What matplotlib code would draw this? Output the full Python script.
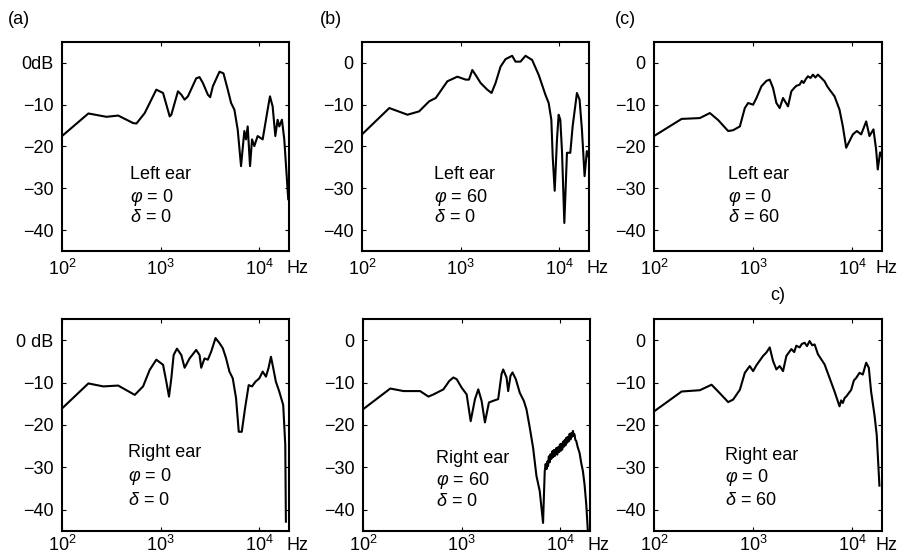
import numpy as np
import matplotlib
matplotlib.use("Agg")
from matplotlib import pyplot as plt

plt.rcParams['font.family'] = ['Liberation Sans', 'DejaVu Sans']
plt.rcParams['mathtext.fontset'] = 'custom'
plt.rcParams['mathtext.rm'] = 'Liberation Sans'
plt.rcParams['mathtext.it'] = 'Liberation Sans:italic'
plt.rcParams['mathtext.bf'] = 'Liberation Sans:bold'

# (a) left ear, phi=0, delta=0
f_a = [100, 185, 282, 371, 526, 568, 689, 903, 1057, 1234, 1282, 1497, 1619, 1748, 1889,
       2291, 2477, 2677, 3006, 3175, 3379, 3946, 4329, 4786, 5174, 5589, 6039, 6525, 7047,
       7328, 7621, 8050, 8433, 8896, 9616, 10810, 12140, 12820, 13640, 14520, 15320, 15920,
       16950, 17900, 19630]
db_a = [-17.5, -12.1, -12.9, -12.6, -14.4, -14.5, -12.0, -6.4, -7.2, -12.8, -12.4, -6.8, -7.6,
        -8.8, -8.0, -3.7, -3.4, -4.8, -7.6, -8.2, -5.6, -2.1, -2.5, -6.4, -9.6, -11.2, -16.0,
        -24.7, -16.3, -18.3, -15.2, -24.7, -18.3, -19.9, -17.5, -18.3, -11.2, -8.0, -10.4,
        -17.5, -13.6, -15.2, -13.6, -18.3, -32.6]

# (b) left ear, phi=60, delta=0
f_b = [100, 189, 289, 379, 479, 559, 733, 925, 1124, 1214, 1312, 1418, 1592, 1859, 2055, 2258,
       2536, 2850, 3327, 3597, 4040, 4539, 5300, 6186, 7222, 7798, 8298, 8567, 8975, 9467,
       9843, 10230, 10640, 11240, 11950, 12920, 13640, 15080, 16040, 16950, 18030, 19010, 19620]
db_b = [-17.1, -10.8, -12.4, -11.6, -9.2, -8.4, -4.4, -3.3, -4.0, -4.0, -1.7, -2.9, -4.8, -6.4,
        -7.2, -4.8, -0.9, 0.9, 1.7, 0.3, 0.3, 1.7, 0.7, -2.9, -7.6, -9.6, -13.6, -22.4, -30.6,
        -18.3, -12.4, -13.6, -21.1, -38.3, -21.5, -21.5, -15.2, -7.2, -8.8, -16.0, -27.1,
        -21.1, -22.3]

# (c) left ear, phi=0, delta=60
f_c = [100, 190, 290, 366, 445, 560, 629, 735, 825, 891, 1000, 1081, 1213, 1362, 1472, 1589,
       1718, 1855, 2005, 2250, 2432, 2600, 2729, 2950, 3100, 3236, 3400, 3578, 3800, 4018,
       4250, 4510, 4876, 5265, 5600, 5912, 6638, 7451, 8050, 8701, 9401, 10160, 11150, 12330,
       13840, 14940, 16390, 17440, 18120, 19130, 20040]
db_c = [-17.5, -13.4, -13.2, -12.0, -13.7, -16.3, -16.1, -15.2, -10.8, -9.6, -10.0, -8.4, -5.6,
        -4.3, -4.0, -6.0, -9.6, -10.8, -8.4, -10.4, -6.8, -6.0, -5.5, -5.2, -4.3, -4.8, -3.9,
        -3.2, -3.6, -2.8, -3.5, -2.8, -3.6, -4.4, -5.6, -6.4, -8.0, -11.2, -15.2, -20.3, -18.7,
        -17.1, -16.3, -17.1, -14.0, -17.5, -15.9, -20.7, -25.5, -21.4, -22.6]

# bottom left: right ear, phi=0, delta=0
f_d = [100, 185, 262, 371, 546, 663, 774, 903, 1057, 1141, 1214, 1282, 1353, 1462, 1619, 1748,
       1963, 2291, 2477, 2575, 2782, 3006, 3250, 3597, 3946, 4265, 4606, 4976, 5379, 5808,
       6186, 6638, 7161, 7798, 8433, 9120, 10000, 10810, 11670, 12410, 13120, 13840, 14720,
       15920, 17460, 18320, 18590]
db_d = [-16.1, -10.2, -10.9, -10.7, -12.9, -10.9, -7.0, -4.6, -5.8, -9.8, -13.3, -9.0, -3.5,
        -2.0, -3.5, -6.5, -4.3, -2.3, -3.5, -6.5, -4.3, -4.6, -2.7, 0.5, -0.7, -1.9, -4.3, -7.4,
        -9.0, -13.7, -21.6, -21.6, -16.1, -10.6, -10.9, -9.8, -9.0, -7.4, -8.6, -6.5, -3.9,
        -6.6, -9.8, -12.1, -15.3, -24.7, -42.8]

# bottom middle: right ear, phi=60, delta=0
f_e = [100, 189, 257, 379, 460, 517, 653, 750, 824, 890, 1000, 1124, 1234, 1364, 1474, 1592,
       1721, 1889, 2089, 2345, 2536, 2636, 2850, 2961, 3127, 3275, 3540, 3882, 4265, 4539,
       4900, 5300, 5727, 6186, 6683, 6950, 7100, 7250, 7400, 7503, 7650, 7800, 7950, 8110,
       8300, 8450, 8600, 8800, 8950, 9120, 9300, 9500, 9700, 9900, 10100, 10230, 10450, 10700,
       10900, 11100, 11300, 11500, 11700, 11900, 12150, 12420, 12700, 12900, 13150, 13430,
       13700, 13900, 14200, 14520, 15000, 15680, 16300, 16950, 17600, 18320, 19010]
db_e = [-16.3, -11.4, -12.0, -12.0, -13.3, -12.8, -11.6, -9.6, -8.8, -9.2, -11.2, -12.8, -19.1,
        -13.9, -11.6, -14.3, -19.4, -14.7, -14.3, -13.9, -8.0, -6.9, -8.8, -12.0, -8.4, -7.6,
        -9.2, -12.4, -14.3, -16.3, -20.6, -25.4, -32.0, -35.6, -43.1, -30.9, -29.2, -30.4,
        -28.6, -29.7, -27.4, -28.8, -26.9, -28.0, -26.2, -27.6, -25.9, -27.3, -26.0, -25.4,
        -27.0, -25.2, -26.4, -24.6, -26.1, -24.4, -25.8, -23.9, -25.1, -23.5, -24.8, -23.0,
        -24.2, -22.8, -23.9, -22.1, -23.4, -21.9, -22.8, -21.4, -22.6, -22.2, -23.5, -23.8,
        -25.2, -26.6, -29.0, -30.9, -34.0, -38.7, -45.0]

# bottom right: right ear, phi=0, delta=60
f_f = [100, 190, 290, 381, 461, 560, 629, 735, 825, 925, 1000, 1081, 1262, 1362, 1472, 1589,
       1718, 1855, 2005, 2168, 2432, 2600, 2729, 2950, 3100, 3311, 3500, 3715, 3950, 4177,
       4510, 5265, 5912, 6638, 7451, 7750, 8050, 8400, 8701, 9777, 10400, 10970, 11850, 12800,
       13840, 14720, 15520, 16780, 17700, 18830]
db_f = [-16.8, -12.1, -11.8, -10.5, -12.5, -14.6, -14.0, -11.7, -7.7, -6.1, -7.3, -5.9, -3.7,
        -2.9, -1.7, -4.9, -6.9, -6.1, -7.3, -3.7, -2.1, -2.8, -1.3, -1.7, -0.9, -0.6, -1.4,
        -0.2, -1.2, -1.0, -3.3, -5.7, -8.9, -12.1, -15.6, -14.2, -14.8, -13.6, -13.3, -11.7,
        -9.5, -8.9, -7.7, -8.1, -5.3, -6.5, -12.1, -17.6, -22.4, -34.3]

yticks = [0, -10, -20, -30, -40]
xticks = [1e2, 1e3, 1e4]
xticklabels = [r'$10^2$', r'$10^3$', r'$10^4$']

panels = [
    (f_a, db_a, [0.069, 0.5494, 0.2525, 0.3752], '0dB', ('Left ear', r'$\varphi$ = 0', r'$\delta$ = 0'), (0.30, [0.364, 0.258, 0.158]), 0.99),
    (f_b, db_b, [0.4027, 0.5494, 0.2525, 0.3752], '0', ('Left ear', r'$\varphi$ = 60', r'$\delta$ = 0'), (0.317, [0.364, 0.258, 0.158]), 0.99),
    (f_c, db_c, [0.7275, 0.5494, 0.2536, 0.3752], '0', ('Left ear', r'$\varphi$ = 0', r'$\delta$ = 60'), (0.325, [0.364, 0.258, 0.158]), 0.972),
    (f_d, db_d, [0.069, 0.0467, 0.2525, 0.3806], '0 dB', ('Right ear', r'$\varphi$ = 0', r'$\delta$ = 0'), (0.29, [0.368, 0.255, 0.146]), 0.99),
    (f_e, db_e, [0.4038, 0.0467, 0.2525, 0.3806], '0', ('Right ear', r'$\varphi$ = 60', r'$\delta$ = 0'), (0.32, [0.344, 0.24, 0.137]), 0.99),
    (f_f, db_f, [0.7275, 0.0467, 0.2536, 0.3806], '0', ('Right ear', r'$\varphi$ = 0', r'$\delta$ = 60'), (0.31, [0.358, 0.25, 0.143]), 0.972),
]

fig = plt.figure(figsize=(8.99, 5.57), dpi=100)
fs = 13

for i, (f, db, pos, zero_label, lines, (tx, tys), hz_x) in enumerate(panels):
    bottom_row = i >= 3
    ax = fig.add_axes(pos)
    ax.plot(f, db, color='k', lw=1.5)
    ax.set_xscale('log')
    ax.set_xlim(100, 20000)
    ax.set_ylim(-45, 5)
    ax.set_xticks(xticks)
    ax.set_xticklabels(xticklabels, fontsize=fs)
    ax.minorticks_off()
    ax.set_yticks(yticks)
    ax.set_yticklabels([zero_label] + ['\u2212%d' % abs(v) for v in yticks[1:]], fontsize=fs)
    ax.tick_params(direction='in', length=3, width=0.8, top=True, right=True, pad=6)
    if bottom_row:
        ax.tick_params(axis='x', pad=3)
    for s in ax.spines.values():
        s.set_linewidth(1.5)
    hz_y = -0.07 if bottom_row else -0.085
    ax.text(hz_x, hz_y, 'Hz', transform=ax.transAxes, ha='left', va='center', fontsize=fs)
    for txt, ty in zip(lines, tys):
        ax.text(tx, ty, txt, transform=ax.transAxes, ha='left', va='center', fontsize=fs)

fig.text(8 / 899, 1 - 20 / 557, '(a)', ha='left', va='center', fontsize=fs)
fig.text(320 / 899, 1 - 20 / 557, '(b)', ha='left', va='center', fontsize=fs)
fig.text(615 / 899, 1 - 20 / 557, '(c)', ha='left', va='center', fontsize=fs)
fig.text(778 / 899, 1 - 295 / 557, 'c)', ha='center', va='center', fontsize=fs)

fig.savefig('out.png', dpi=100)
